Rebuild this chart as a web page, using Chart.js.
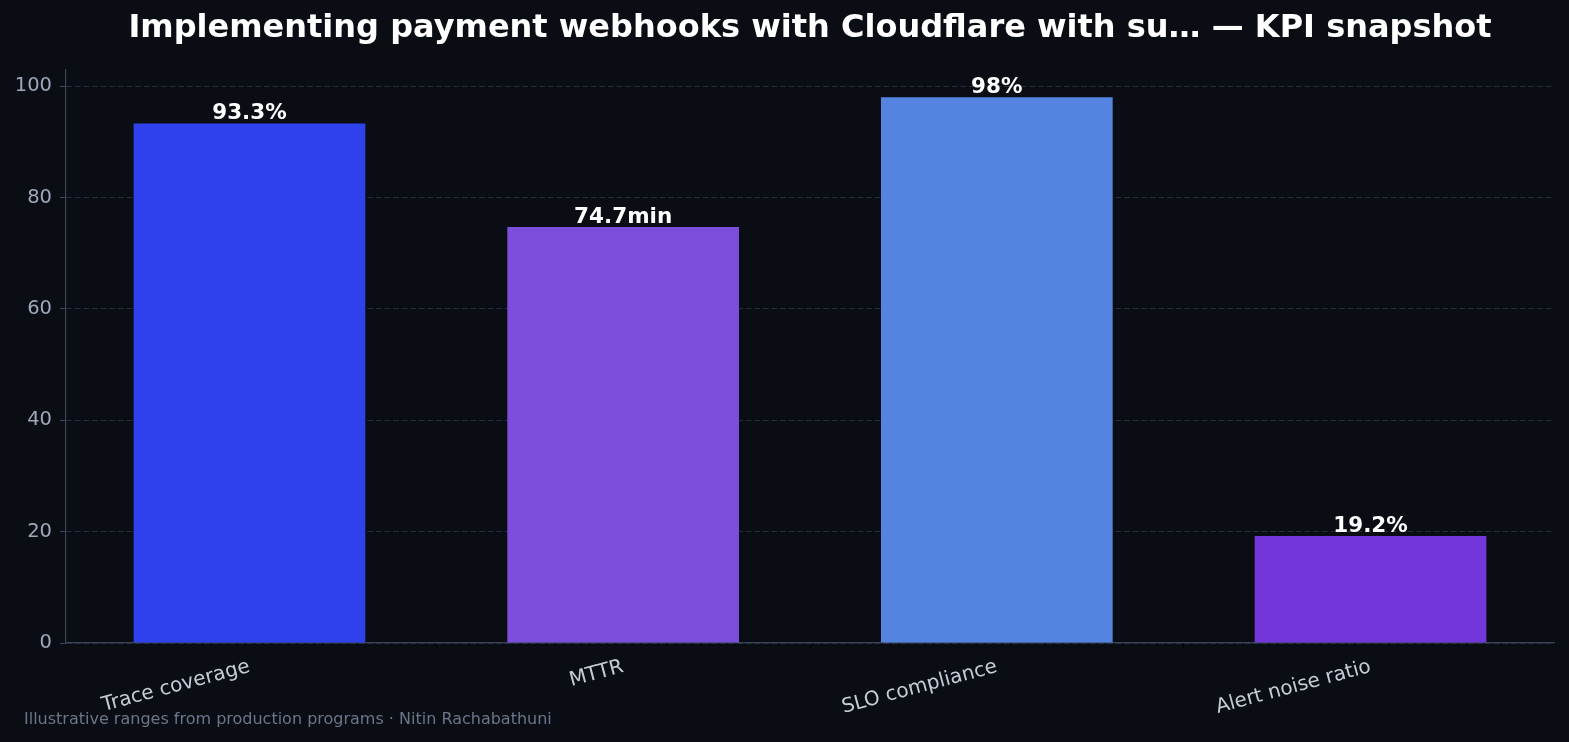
<!DOCTYPE html>
<html>
<head>
<meta charset="utf-8">
<title>KPI snapshot</title>
<script src="https://cdn.jsdelivr.net/npm/chart.js@4"></script>
<style>
  html, body { margin: 0; padding: 0; background: #0a0d14; }
  #wrap { width: 1569px; height: 742px; position: relative; }
</style>
</head>
<body>
<div id="wrap"><canvas id="chart" width="1569" height="742"></canvas></div>
<script>
// datos del grafico
const categorias = ['Trace coverage', 'MTTR', 'SLO compliance', 'Alert noise ratio'];
const valores = [93.3, 74.7, 98, 19.2];
const unidades = ['%', 'min', '%', '%'];
const ticksY = [0, 20, 40, 60, 80, 100];

const coloresBarras = ['#2f41ec', '#7d4ddb', '#5584e0', '#7336d8'];

const titulo = 'Implementing payment webhooks with Cloudflare with su\u2026 \u2014 KPI snapshot';
const pie = 'Illustrative ranges from production programs \u00b7 Nitin Rachabathuni';

// ancho de barra y margen del eje x (5% del rango ocupado por las barras)
const anchoBarra = 0.62;
const margenX = 0.05 * (categorias.length - 1 + anchoBarra);

// titulo, pie y etiquetas de valor encima de cada barra
const textosExtra = {
    id: 'textosExtra',
    afterDatasetsDraw(chart) {
        const ctx = chart.ctx;
        ctx.save();
        ctx.fillStyle = '#ffffff';
        ctx.font = 'bold 21.5px "DejaVu Sans"';
        ctx.textAlign = 'center';
        ctx.textBaseline = 'alphabetic';
        chart.getDatasetMeta(0).data.forEach((barra, i) => {
            ctx.fillText(valores[i] + unidades[i], barra.x, barra.y - 4);
        });
        ctx.restore();
    },
    afterDraw(chart) {
        const ctx = chart.ctx;
        ctx.save();
        ctx.fillStyle = '#ffffff';
        ctx.font = 'bold 32px "DejaVu Sans"';
        ctx.textAlign = 'center';
        ctx.textBaseline = 'middle';
        ctx.fillText(titulo, 810, 29);
        ctx.fillStyle = '#6b768a';
        ctx.font = '16px "DejaVu Sans"';
        ctx.textAlign = 'left';
        ctx.fillText(pie, 24, 720);
        ctx.restore();
    }
};

const ctx = document.getElementById('chart').getContext('2d');
new Chart(ctx, {
    type: 'bar',
    data: {
        datasets: [{
            data: valores.map((v, i) => ({ x: i, y: v })),
            backgroundColor: coloresBarras,
            borderWidth: 0,
            barPercentage: anchoBarra,
            categoryPercentage: 1
        }]
    },
    options: {
        responsive: false,
        animation: false,
        layout: { padding: { top: 70, right: 15, left: 0, bottom: 0 } },
        plugins: {
            legend: { display: false },
            tooltip: { enabled: false },
            title: { display: false }
        },
        scales: {
            x: {
                type: 'linear',
                offset: false,
                min: -anchoBarra / 2 - margenX,
                max: categorias.length - 1 + anchoBarra / 2 + margenX,
                afterBuildTicks: (scale) => { scale.ticks = categorias.map((c, i) => ({ value: i })); },
                grid: {
                    drawOnChartArea: false,
                    color: 'transparent',
                    tickColor: '#000000',
                    tickLength: 6
                },
                border: { color: '#3a4658', width: 1.2 },
                ticks: {
                    color: '#c6ccd6',
                    font: { family: 'DejaVu Sans', size: 20 },
                    minRotation: 15,
                    maxRotation: 15,
                    autoSkip: false,
                    padding: 6,
                    callback: (v) => categorias[v]
                },
                afterFit: (scale) => { scale.height = 99; }
            },
            y: {
                min: 0,
                max: 98 * 1.05,
                afterBuildTicks: (scale) => { scale.ticks = ticksY.map(v => ({ value: v })); },
                grid: {
                    color: '#252c3a',
                    lineWidth: 1,
                    tickColor: '#3a4658',
                    tickBorderDash: [],
                    tickLength: 6
                },
                border: { color: '#3a4658', width: 1.2, dash: [6, 2.6] },
                ticks: {
                    color: '#9ea8b8',
                    font: { family: 'DejaVu Sans', size: 19.5 },
                    padding: 8
                },
                afterFit: (scale) => { scale.width = 66; }
            }
        }
    },
    plugins: [textosExtra]
});
</script>
</body>
</html>
